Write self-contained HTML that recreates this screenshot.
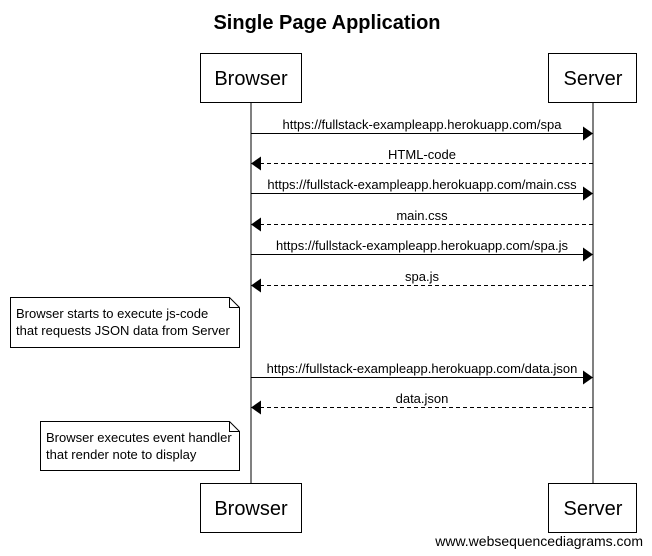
<!DOCTYPE html>
<html><head><style>body{margin:0;background:#fff}svg{display:block}</style></head><body>
<svg width="652" height="556" xmlns="http://www.w3.org/2000/svg" font-family="Liberation Sans, sans-serif">
<text x="327" y="29" font-size="20" font-weight="bold" text-anchor="middle">Single Page Application</text>
<g stroke="#000" fill="none">
<line x1="251" y1="102" x2="251" y2="483"/>
<line x1="593" y1="102" x2="593" y2="483"/>
<rect x="200.5" y="53.5" width="101" height="49" fill="#fff"/>
<rect x="548.5" y="53.5" width="88" height="49" fill="#fff"/>
<rect x="200.5" y="483.5" width="101" height="49" fill="#fff"/>
<rect x="548.5" y="483.5" width="88" height="49" fill="#fff"/>
</g>
<g font-size="20" text-anchor="middle">
<text x="251" y="85">Browser</text><text x="593" y="85">Server</text>
<text x="251" y="515">Browser</text><text x="593" y="515">Server</text>
</g>
<g stroke="#000">
<line x1="251" y1="133.5" x2="584" y2="133.5"/>
<line x1="260" y1="163.5" x2="593" y2="163.5" stroke-dasharray="4,3"/>
<line x1="251" y1="193.5" x2="584" y2="193.5"/>
<line x1="260" y1="224.5" x2="593" y2="224.5" stroke-dasharray="4,3"/>
<line x1="251" y1="254.5" x2="584" y2="254.5"/>
<line x1="260" y1="285.5" x2="593" y2="285.5" stroke-dasharray="4,3"/>
<line x1="251" y1="377.5" x2="584" y2="377.5"/>
<line x1="260" y1="407.5" x2="593" y2="407.5" stroke-dasharray="4,3"/>
</g>
<g fill="#000">
<polygon points="583,126.5 593,133.5 583,140.5"/>
<polygon points="261,156.5 251,163.5 261,170.5"/>
<polygon points="583,186.5 593,193.5 583,200.5"/>
<polygon points="261,217.5 251,224.5 261,231.5"/>
<polygon points="583,247.5 593,254.5 583,261.5"/>
<polygon points="261,278.5 251,285.5 261,292.5"/>
<polygon points="583,370.5 593,377.5 583,384.5"/>
<polygon points="261,400.5 251,407.5 261,414.5"/>
</g>
<g font-size="13" text-anchor="middle">
<text x="422" y="129">https://fullstack-exampleapp.herokuapp.com/spa</text>
<text x="422" y="159">HTML-code</text>
<text x="422" y="189">https://fullstack-exampleapp.herokuapp.com/main.css</text>
<text x="422" y="220">main.css</text>
<text x="422" y="250">https://fullstack-exampleapp.herokuapp.com/spa.js</text>
<text x="422" y="281">spa.js</text>
<text x="422" y="373">https://fullstack-exampleapp.herokuapp.com/data.json</text>
<text x="422" y="403">data.json</text>
</g>
<g stroke="#000" fill="#fff">
<path d="M10.5 297.5 H229.5 L239.5 307.5 V347.5 H10.5 Z"/>
<path d="M229.5 297.5 V307.5 H239.5" fill="none"/>
<path d="M40.5 421.5 H229.5 L239.5 431.5 V470.5 H40.5 Z"/>
<path d="M229.5 421.5 V431.5 H239.5" fill="none"/>
</g>
<g font-size="13">
<text x="16" y="318">Browser starts to execute js-code</text>
<text x="16" y="335">that requests JSON data from Server</text>
<text x="46" y="442">Browser executes event handler</text>
<text x="46" y="459">that render note to display</text>
</g>
<text x="643" y="546" font-size="14" text-anchor="end">www.websequencediagrams.com</text>
</svg>
</body></html>
